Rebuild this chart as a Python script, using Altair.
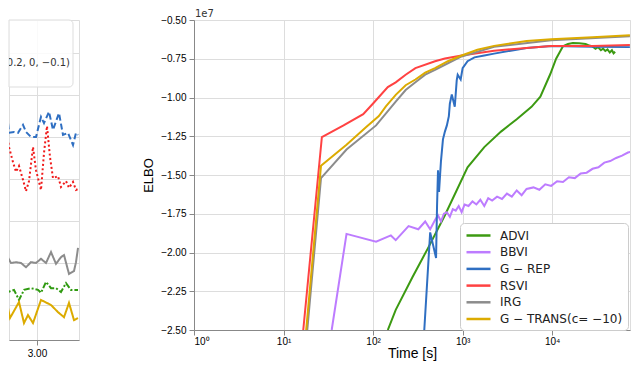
import altair as alt
import pandas as pd

FONT = "DejaVu Sans"

# ---------------- right panel: ELBO (x 1e7) vs time [s] ----------------
series = ["ADVI", "BBVI", "G − REP", "RSVI", "IRG", "G − TRANS(c= −10)"]
colors = ["#3c9a12", "#bd7cff", "#2f6fc2", "#ff4242", "#8c8c8c", "#dcab00"]

advi_t = [146, 179, 275, 412, 634, 1135, 1746, 2683, 4020, 5880, 7380, 9510, 11070,
          13200, 15000, 17000, 20000, 23650, 26000, 28200, 30500, 32500, 35000,
          37000, 39200, 41500, 44000, 46500, 48500, 50500]
advi_v = [-2.5, -2.37, -2.16, -1.97, -1.76, -1.45, -1.32, -1.22, -1.14, -1.06, -0.995,
          -0.85, -0.75, -0.67, -0.655, -0.648, -0.65, -0.655, -0.665, -0.67, -0.685,
          -0.675, -0.695, -0.685, -0.70, -0.69, -0.71, -0.695, -0.715, -0.705]

bbvi_t = [34.5, 50.5, 108, 158, 179, 249, 320, 382, 434, 492, 531, 573, 618, 667, 720,
          777, 838, 904, 975, 1052, 1164, 1288, 1425, 1577, 1745, 1931, 2136, 2425,
          2753, 3124, 3542, 4020, 4562, 5177, 6180, 7194, 8375, 9750, 11350, 13210,
          15380, 17900, 20840, 24260, 28240, 32850, 38240, 44500, 51800, 60300,
          70200, 75700]
bbvi_v = [-2.5, -1.88, -1.93, -1.89, -1.92, -1.83, -1.85, -1.80, -1.85, -1.79, -1.76,
          -1.80, -1.75, -1.74, -1.77, -1.72, -1.73, -1.70, -1.74, -1.69, -1.70, -1.67,
          -1.69, -1.66, -1.70, -1.65, -1.665, -1.64, -1.655, -1.62, -1.64, -1.60,
          -1.63, -1.59, -1.58, -1.595, -1.56, -1.57, -1.54, -1.545, -1.515, -1.52,
          -1.49, -1.485, -1.46, -1.45, -1.42, -1.41, -1.39, -1.375, -1.355, -1.35]

grep_t = [373, 434, 505, 518, 531, 545, 573, 603, 634, 667, 702, 720, 757, 817, 859,
          881, 951, 1000, 1135, 1355, 1746, 2247, 5180, 9750, 28200, 73800]
grep_v = [-2.5, -1.87, -2.035, -1.70, -1.47, -1.61, -1.41, -1.27, -1.22, -1.18, -1.12,
          -1.04, -0.98, -1.06, -0.89, -0.853, -0.884, -0.81, -0.766, -0.741, -0.729,
          -0.717, -0.68, -0.667, -0.672, -0.675]

rsvi_t = [16.6, 26.8, 46.8, 77.6, 100, 146, 179, 231, 297, 492, 634, 975, 2247, 5180,
          9750, 28200, 73800]
rsvi_v = [-2.5, -1.255, -1.18, -1.107, -1.039, -0.933, -0.902, -0.853, -0.81, -0.766,
          -0.748, -0.729, -0.698, -0.68, -0.667, -0.667, -0.661]

irg_t = [18.4, 26.2, 50.5, 108, 179, 231, 297, 382, 492, 684, 975, 2247, 9750, 73800]
irg_v = [-2.5, -1.52, -1.336, -1.18, -1.026, -0.952, -0.902, -0.853, -0.822, -0.779,
         -0.735, -0.673, -0.63, -0.605]

gtrans_t = [17.9, 26.2, 50.5, 83.8, 116, 139, 179, 231, 297, 382, 492, 684, 975, 1462,
            2247, 5180, 9750, 28200, 73800]
gtrans_v = [-2.5, -1.44, -1.305, -1.19, -1.12, -1.057, -0.983, -0.921, -0.884, -0.84,
            -0.81, -0.766, -0.729, -0.692, -0.667, -0.636, -0.624, -0.611, -0.599]

x_ticks = [1, 10, 100, 1000, 10000]
y_ticks = [-2.5, -2.25, -2.0, -1.75, -1.5, -1.25, -1.0, -0.75, -0.5]

# ---------------- left panel (cropped view of another figure) ----------------
l_series = ["blue", "red", "gray", "green", "yellow"]
l_colors = ["#2f6fc2", "#f01818", "#8c8c8c", "#2f9a10", "#dcab00"]
l_dash = [[6, 3], [2, 2.5], [1, 0], [6, 2, 2, 2], [1, 0]]

blue_x = [2.64, 2.69, 2.72, 2.77, 2.81, 2.86, 2.89, 2.94, 2.99, 3.04, 3.07, 3.12, 3.16,
          3.22, 3.26, 3.31, 3.36, 3.39, 3.41]
blue_y = [5.24, 5.81, 5.10, 5.12, 5.10, 5.29, 5.12, 5.0, 5.0, 5.48, 5.33, 5.60, 5.17,
          5.57, 5.05, 5.10, 4.81, 5.10, 5.05]
red_x = [2.64, 2.69, 2.72, 2.76, 2.79, 2.82, 2.86, 2.89, 2.92, 2.96, 2.99, 3.04, 3.07,
         3.10, 3.13, 3.16, 3.21, 3.24, 3.29, 3.32, 3.36, 3.39, 3.41]
red_y = [4.02, 5.24, 4.76, 4.40, 4.17, 4.31, 3.98, 3.71, 3.95, 4.76, 4.21, 3.74, 4.62,
         5.26, 4.52, 4.02, 4.07, 3.81, 3.95, 3.79, 3.93, 3.74, 3.76]
gray_x = [2.64, 2.69, 2.74, 2.79, 2.84, 2.89, 2.94, 2.99, 3.04, 3.09, 3.14, 3.19, 3.24,
          3.27, 3.32, 3.37, 3.39, 3.41]
gray_y = [1.95, 2.21, 2.0, 2.02, 2.0, 1.90, 2.02, 2.0, 2.10, 2.0, 2.26, 1.98, 2.14,
          2.19, 1.74, 1.81, 2.02, 2.36]
green_x = [2.64, 2.71, 2.77, 2.82, 2.87, 2.94, 3.01, 3.04, 3.09, 3.14, 3.19, 3.24, 3.29,
           3.34, 3.41]
green_y = [1.36, 1.31, 1.36, 1.12, 1.36, 1.40, 1.36, 1.29, 1.55, 1.40, 1.40, 1.31, 1.52,
           1.36, 1.36]
yellow_x = [2.64, 2.69, 2.73, 2.82, 2.87, 2.91, 2.96, 3.04, 3.14, 3.21, 3.27, 3.32,
            3.37, 3.41]
yellow_y = [1.12, 1.17, 0.69, 1.07, 0.57, 0.76, 0.57, 1.12, 1.0, 0.83, 0.71, 1.05,
            0.64, 0.69]

left_legend_text = "0.2, 0, −0.1)"

# ---------------- build tables ----------------
rows = []
for name, ts, vs in zip(series,
                        [advi_t, bbvi_t, grep_t, rsvi_t, irg_t, gtrans_t],
                        [advi_v, bbvi_v, grep_v, rsvi_v, irg_v, gtrans_v]):
    for i, (t, v) in enumerate(zip(ts, vs)):
        rows.append({"s": name, "t": t, "v": v, "i": i})
right_df = pd.DataFrame(rows)

lrows = []
for name, xs, ys in zip(l_series,
                        [blue_x, red_x, gray_x, green_x, yellow_x],
                        [blue_y, red_y, gray_y, green_y, yellow_y]):
    for i, (x, y) in enumerate(zip(xs, ys)):
        lrows.append({"s": name, "x": x, "y": y, "i": i})
left_df = pd.DataFrame(lrows)

one = pd.DataFrame({"a": [0]})

LEFT_H = 320
RIGHT_H = 310

# ---------------- left chart ----------------
left_lines = alt.Chart(left_df).mark_line(strokeWidth=2, clip=True).encode(
    x=alt.X("x:Q", scale=alt.Scale(domain=[2.72, 3.42], nice=False, zero=False),
            axis=alt.Axis(values=[3.0], format=".2f", title=None, labelFontSize=10,
                          labelPadding=3)),
    y=alt.Y("lv:Q", scale=alt.Scale(domain=[0.1667, 7.786], nice=False, zero=False),
            axis=alt.Axis(values=[1, 2, 3, 4, 5, 6, 7], labels=False, ticks=False,
                          domain=False, title=None)),
    color=alt.Color("ls:N", scale=alt.Scale(domain=l_series, range=l_colors), legend=None),
    strokeDash=alt.StrokeDash("ls:N", scale=alt.Scale(domain=l_series, range=l_dash),
                              legend=None),
    order="i:Q",
).transform_calculate(lv="datum.y", ls="datum.s")
left_box = alt.Chart(one).mark_rect(
    fill="white", fillOpacity=0.85, stroke="#dddddd", strokeWidth=1,
    cornerRadiusTopRight=4, cornerRadiusBottomRight=4
).encode(x=alt.value(0), x2=alt.value(64), y=alt.value(0), y2=alt.value(67))
left_text = alt.Chart(one).mark_text(
    align="right", baseline="middle", fontSize=10, font=FONT, color="#333333", clip=True
).encode(x=alt.value(61), y=alt.value(43), text=alt.value(left_legend_text))
# invisible spacers so that both panels have the same extent above / below
left_top_pad = alt.Chart(one).mark_text(
    align="left", baseline="bottom", fontSize=10, font=FONT, opacity=0
).encode(x=alt.value(1), y=alt.value(-1), text=alt.value("1e7"))
left_bot_pad = alt.Chart(one).mark_text(
    align="left", baseline="bottom", fontSize=10, font=FONT, opacity=0
).encode(x=alt.value(1), y=alt.value(RIGHT_H + 26), text=alt.value("1e7"))

left = alt.layer(left_lines, left_box, left_text, left_top_pad, left_bot_pad).properties(
    width=70, height=LEFT_H)

# ---------------- right chart ----------------
right_lines = alt.Chart(right_df).mark_line(strokeWidth=2, clip=True).encode(
    x=alt.X("t:Q",
            scale=alt.Scale(type="log", domain=[1, 74000], nice=False),
            axis=alt.Axis(values=x_ticks, title="Time [s]", titleFontSize=14,
                          titleFontWeight="normal", titlePadding=0, labelPadding=1,
                          labelExpr="'10' + ['⁰','¹','²','³','⁴'][round(log(datum.value)/LN10)]")),
    y=alt.Y("v:Q", scale=alt.Scale(domain=[-2.5, -0.5], nice=False, zero=False),
            axis=alt.Axis(values=y_ticks, format=".2f", title="ELBO", titleFontSize=13,
                          titleFontWeight="normal", titlePadding=5, labelPadding=3)),
    color=alt.Color("s:N", scale=alt.Scale(domain=series, range=colors),
                    legend=alt.Legend(orient="none", legendX=266, legendY=203, title=None,
                                      symbolType="M-1,0H3", symbolStrokeWidth=2.5,
                                      symbolSize=144, labelFontSize=12, rowPadding=2.7,
                                      padding=5, fillColor="white", strokeColor="#cccccc",
                                      cornerRadius=4, labelColor="#222222",
                                      labelOffset=20, labelFont=FONT)),
    order="i:Q",
)
exp_text = alt.Chart(one).mark_text(
    align="left", baseline="bottom", fontSize=10, font=FONT, color="#333333"
).encode(x=alt.value(1), y=alt.value(-1), text=alt.value("1e7"))

right = alt.layer(right_lines, exp_text).properties(width=436, height=RIGHT_H)

chart = alt.hconcat(left, right, spacing=62).resolve_scale(
    color="independent", strokeDash="independent"
).properties(
    padding={"left": 0, "top": 0, "right": 0, "bottom": 0}
).configure_view(
    stroke="#9a9a9a", strokeWidth=1.5
).configure_axis(
    grid=True, gridColor="#e3e3e3", gridWidth=1, domain=False, ticks=False,
    labelColor="#444444", labelFont=FONT, labelFontSize=10.5, titleFont=FONT,
    titleFontWeight="normal", titleColor="#222222"
).configure(background="white")

chart.save("out.html", embed_options={"renderer": "svg", "actions": False})
